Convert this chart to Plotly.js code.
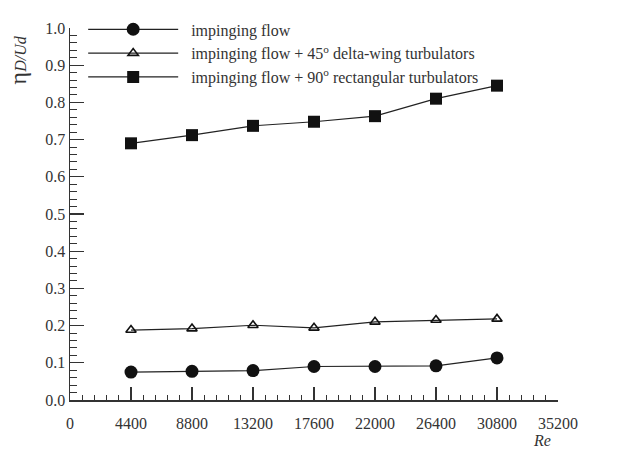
<!DOCTYPE html>
<html>
<head>
<meta charset="utf-8">
<script src="https://cdn.plot.ly/plotly-3.0.1.min.js"></script>
<style>html,body{margin:0;padding:0;background:#fff}#chart{width:627px;height:449px}</style>
</head>
<body>
<div id="chart"></div>
<script>
const re = [4400, 8800, 13200, 17600, 22000, 26400, 30800];
const impinging = [0.075, 0.077, 0.079, 0.090, 0.090, 0.092, 0.113];
const deltaWing45 = [0.188, 0.192, 0.201, 0.194, 0.210, 0.215, 0.218];
const rect90 = [0.690, 0.712, 0.737, 0.748, 0.763, 0.810, 0.845];
const names = ['impinging flow', 'impinging flow + 45<sup>o</sup> delta-wing turbulators', 'impinging flow + 90<sup>o</sup> rectangular turbulators'];
const xTicks = [0, 4400, 8800, 13200, 17600, 22000, 26400, 30800, 35200];

const pad = '\u00a0\u00a0';
const lineStyle = {color: '#222', width: 1.2};
const traces = [
  {x: re, y: impinging, name: pad + names[0], mode: 'lines+markers', line: lineStyle,
   marker: {symbol: 'circle', size: 13, color: '#111'}},
  {x: re, y: deltaWing45, name: pad + names[1], mode: 'lines+markers', line: lineStyle,
   marker: {symbol: 'triangle-up-open', size: 9, color: '#111', line: {width: 1.6, color: '#111'}}},
  {x: re, y: rect90, name: pad + names[2], mode: 'lines+markers', line: lineStyle,
   marker: {symbol: 'square', size: 12, color: '#111'}}
];
const font = {family: '"Liberation Serif", "Times New Roman", serif', size: 16, color: '#333'};
const layout = {
  width: 627, height: 449,
  margin: {l: 70, r: 69, t: 22, b: 49},
  paper_bgcolor: '#fff', plot_bgcolor: '#fff',
  font: font,
  showlegend: true,
  legend: {x: 0.027, y: 1.042, xanchor: 'left', yanchor: 'top', bgcolor: 'rgba(0,0,0,0)',
           font: font, itemwidth: 90, tracegroupgap: 0},
  xaxis: {range: [0, 35200], tickvals: xTicks, ticktext: xTicks.map(String),
          showgrid: false, zeroline: false, showline: true, linecolor: '#333', linewidth: 1.5,
          ticks: 'inside', ticklen: 13, tickwidth: 1.3, tickcolor: '#333', ticklabelstandoff: 8,
          minor: {dtick: 880, ticks: 'inside', ticklen: 5, tickwidth: 1, tickcolor: '#333'},
          tickfont: font},
  yaxis: {range: [0, 1], dtick: 0.1, tickformat: '.1f',
          showgrid: false, zeroline: false, showline: true, linecolor: '#333', linewidth: 1.5,
          ticks: 'inside', ticklen: 14, tickwidth: 1.3, tickcolor: '#333',
          minor: {dtick: 0.02, ticks: 'inside', ticklen: 7, tickwidth: 1, tickcolor: '#333'},
          tickfont: font},
  annotations: [
    {xref: 'paper', yref: 'paper', x: 0.99, y: -0.08, xanchor: 'right', yanchor: 'top', showarrow: false,
     text: '<i>Re</i>', font: font},
    {xref: 'paper', yref: 'paper', x: -0.107, y: 0.915, xanchor: 'center', yanchor: 'middle', showarrow: false,
     textangle: -90, text: '<span style="font-size:24px">η</span><i>D/Ud</i>', font: font}
  ]
};
Plotly.newPlot('chart', traces, layout, {displayModeBar: false, staticPlot: true});
</script>
</body>
</html>
